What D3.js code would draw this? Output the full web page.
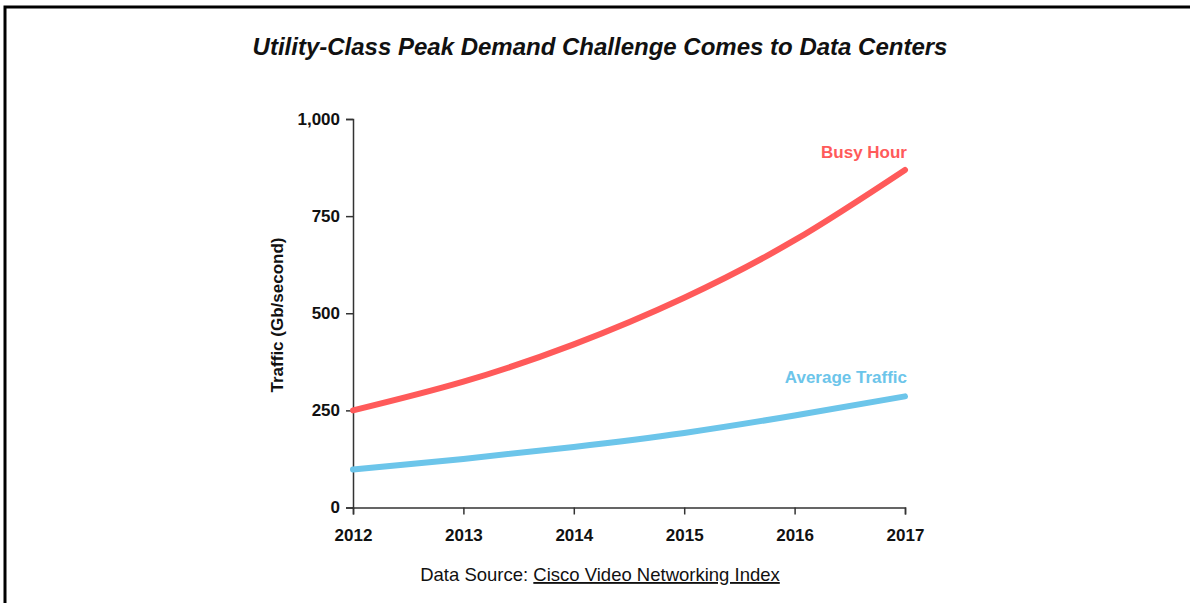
<!DOCTYPE html>
<html>
<head>
<meta charset="utf-8">
<script src="https://cdn.jsdelivr.net/npm/d3@7"></script>
<style>
  html, body { margin: 0; padding: 0; background: #fff; }
  svg { display: block; font-family: "Liberation Sans", Arial, Helvetica, sans-serif; }
</style>
</head>
<body>
<svg id="chart" width="1191" height="603"></svg>
<script>
// Yearly traffic, Gb/second
const years = [2012, 2013, 2014, 2015, 2016, 2017];
const busyHour = [250, 324, 420, 540, 688, 869];
const averageTraffic = [98, 125, 156, 192, 237, 286];
const yTicks = [0, 250, 500, 750, 1000];

const svg = d3.select("#chart");
const W = 1191, H = 603;

// frame (top and left rules)
svg.append("path")
  .attr("d", `M5,${H} V7 H1190`)
  .attr("fill", "none").attr("stroke", "#000").attr("stroke-width", 3);

const x = d3.scaleLinear().domain([2012, 2017]).range([353, 905]);
const y = d3.scaleLinear().domain([0, 1000]).range([507.5, 119]);

// title
svg.append("text")
  .attr("x", 600).attr("y", 55)
  .attr("text-anchor", "middle")
  .attr("font-size", 24).attr("font-weight", "bold").attr("font-style", "italic")
  .attr("fill", "#111")
  .text("Utility-Class Peak Demand Challenge Comes to Data Centers");

// axes
const yAxis = svg.append("g")
  .attr("transform", `translate(${x(2012)},0)`)
  .call(d3.axisLeft(y).tickValues(yTicks).tickSize(7).tickPadding(6)
    .tickFormat(d3.format(",")));
const xAxis = svg.append("g")
  .attr("transform", `translate(0,${y(0)})`)
  .call(d3.axisBottom(x).tickValues(years).tickSize(7).tickPadding(14)
    .tickFormat(d3.format("d")));

[yAxis, xAxis].forEach(g => {
  g.selectAll("path, line").attr("stroke", "#333").attr("stroke-width", 1.5);
  g.selectAll("text")
    .attr("font-family", "Liberation Sans, Arial, sans-serif")
    .attr("font-size", 17).attr("font-weight", "bold").attr("fill", "#111");
});

// y-axis title
svg.append("text")
  .attr("transform", "translate(283,315) rotate(-90)")
  .attr("text-anchor", "middle")
  .attr("font-size", 17).attr("font-weight", "bold").attr("fill", "#111")
  .text("Traffic (Gb/second)");

// series lines
const line = d3.line()
  .x((d, i) => x(years[i]))
  .y(d => y(d))
  .curve(d3.curveNatural);

const series = [
  { name: "Busy Hour", values: busyHour, color: "#FF5A5A", labelY: 158 },
  { name: "Average Traffic", values: averageTraffic, color: "#6CC5EA", labelY: 383 }
];

series.forEach(s => {
  svg.append("path")
    .datum(s.values)
    .attr("d", line)
    .attr("fill", "none")
    .attr("stroke", s.color)
    .attr("stroke-width", 6)
    .attr("stroke-linecap", "round")
    .attr("stroke-linejoin", "round");
  svg.append("text")
    .attr("x", x(2017) + 2).attr("y", s.labelY)
    .attr("text-anchor", "end")
    .attr("font-size", 17).attr("font-weight", "bold")
    .attr("fill", s.color)
    .text(s.name);
});

// source note
const src = svg.append("text")
  .attr("x", 600).attr("y", 581)
  .attr("text-anchor", "middle")
  .attr("font-size", 18.5).attr("fill", "#111");
src.append("tspan").text("Data Source: ");
src.append("tspan").attr("text-decoration", "underline").text("Cisco Video Networking Index");
</script>
</body>
</html>
